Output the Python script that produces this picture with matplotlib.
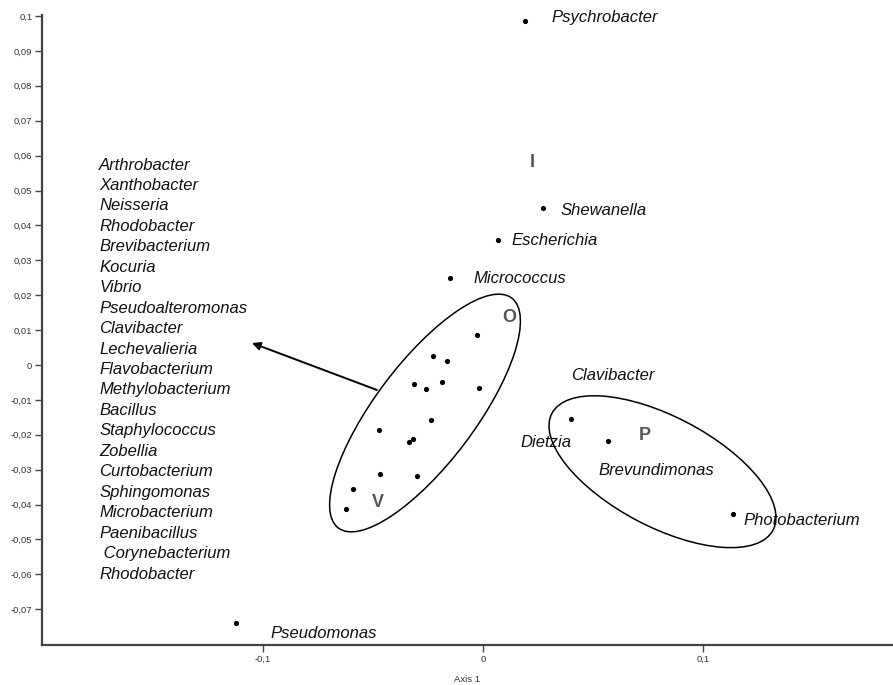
import matplotlib
matplotlib.use("Agg")
import matplotlib.pyplot as plt
from matplotlib.patches import Ellipse
from matplotlib.transforms import ScaledTranslation
from matplotlib.ticker import FuncFormatter

plt.rcParams['font.family'] = ['Liberation Sans', 'DejaVu Sans']

# ---- data (Axis 1 / Axis 2 scores) ----
cluster_x = [-0.0026, -0.0229, -0.0165, -0.0314, -0.0259, -0.0185, -0.0020, -0.0235,
             -0.0473, -0.0320, -0.0336, -0.0468, -0.0299, -0.0590, -0.0624]
cluster_y = [0.0086, 0.0026, 0.0011, -0.0055, -0.0068, -0.0050, -0.0065, -0.0158,
             -0.0185, -0.0213, -0.0221, -0.0311, -0.0318, -0.0356, -0.0412]

named = ["Psychrobacter", "Shewanella", "Escherichia", "Micrococcus",
         "Clavibacter", "Brevundimonas", "Photobacterium", "Pseudomonas"]
named_x = [0.0191, 0.0273, 0.0068, -0.0150, 0.0399, 0.0570, 0.1138, -0.1123]
named_y = [0.0986, 0.0450, 0.0358, 0.0249, -0.0155, -0.0217, -0.0428, -0.0739]

cluster_genera = ["Arthrobacter", "Xanthobacter", "Neisseria", "Rhodobacter",
                  "Brevibacterium", "Kocuria", "Vibrio", "Pseudoalteromonas",
                  "Clavibacter", "Lechevalieria", "Flavobacterium", "Methylobacterium",
                  "Bacillus", "Staphylococcus", "Zobellia", "Curtobacterium",
                  "Sphingomonas", "Microbacterium", "Paenibacillus", " Corynebacterium",
                  "Rhodobacter"]

x_ticks = [-0.1, 0.0, 0.1]
y_ticks = [-0.07, -0.06, -0.05, -0.04, -0.03, -0.02, -0.01, 0.0,
           0.01, 0.02, 0.03, 0.04, 0.05, 0.06, 0.07, 0.08, 0.09, 0.1]

# ---- figure ----
W, H = 893, 685
fig = plt.figure(figsize=(W / 100, H / 100), dpi=100)
ax = fig.add_axes([42 / W, 40 / H, (W - 42) / W, (645 - 15) / H])
ax.set_xlim(-0.20045, 0.18636)
ax.set_ylim(-0.08023, 0.10029)

for s in ['top', 'right']:
    ax.spines[s].set_visible(False)
for s in ['left', 'bottom']:
    ax.spines[s].set_color('#444444')
    ax.spines[s].set_linewidth(1.6)

def comma(v, pos):
    if abs(v) < 1e-12:
        return "0"
    s = ("%.2f" % v).rstrip('0').rstrip('.')
    return s.replace('.', ',')

ax.set_xticks(x_ticks)
ax.set_yticks(y_ticks)
ax.xaxis.set_major_formatter(FuncFormatter(comma))
ax.yaxis.set_major_formatter(FuncFormatter(comma))
ax.tick_params(axis='both', direction='out', length=5, width=1, color='#444444',
               labelsize=6.8, labelcolor='#333333', pad=2)
ax.set_xlabel("Axis 1", fontsize=6.8, color='#333333', labelpad=8)

# points
ax.scatter(cluster_x, cluster_y, s=14, color='black', zorder=3, linewidths=0)
ax.scatter(named_x, named_y, s=14, color='black', zorder=3, linewidths=0)

# labels for named points: offsets in pixels (dx, dy)
label_offsets = {
    "Psychrobacter": (26, 3),
    "Shewanella": (17, -3),
    "Escherichia": (14, 0),
    "Micrococcus": (23, 0),
    "Clavibacter": (0, 44),
    "Brevundimonas": (-10, -30),
    "Photobacterium": (10, -6),
    "Pseudomonas": (35, -11),
}
txt_kw = dict(textcoords='offset points', ha='left', va='center', fontsize=12,
              style='italic', color='#111111')
for name, x, y in zip(named, named_x, named_y):
    dx, dy = label_offsets[name]
    ax.annotate(name, (x, y), xytext=(dx * 0.72, dy * 0.72), **txt_kw)
# second label sharing the Clavibacter position
ax.annotate("Dietzia", (named_x[4], named_y[4]), xytext=(-50 * 0.72, -23 * 0.72), **txt_kw)

# list of genera in the cluster
y0 = 0.0573
step = 0.00586
for i, g in enumerate(cluster_genera):
    ax.text(-0.1745, y0 - i * step, g, fontsize=12, style='italic',
            ha='left', va='center', color='#111111')

# group letters
for letter, (lx, ly) in {"I": (0.0223, 0.0579), "O": (0.0118, 0.0135),
                         "V": (-0.0477, -0.0395), "P": (0.0736, -0.0201)}.items():
    ax.text(lx, ly, letter, fontsize=13, fontweight='bold', color='#555555',
            ha='center', va='center')

# ellipses (sizes in pixels, centred on data points)
def add_ellipse(cx, cy, w, h, ang):
    tr = ScaledTranslation(cx, cy, ax.transData)
    e = Ellipse((0, 0), w, h, angle=ang, fill=False, edgecolor='black',
                linewidth=1.1, transform=tr)
    ax.add_patch(e)

add_ellipse((425 - 483) / 2200, (365 - 413) / 3490, 288, 100, 53)
add_ellipse((662.5 - 483) / 2200, (365 - 471.7) / 3490, 250, 110, -27.8)

# arrow
ax.annotate("", xy=(-0.105, 0.0063), xytext=(-0.0482, -0.00716),
            arrowprops=dict(arrowstyle='-|>', color='black', lw=1.4,
                            mutation_scale=12, shrinkA=0, shrinkB=0))

fig.savefig("out.png", dpi=100)
